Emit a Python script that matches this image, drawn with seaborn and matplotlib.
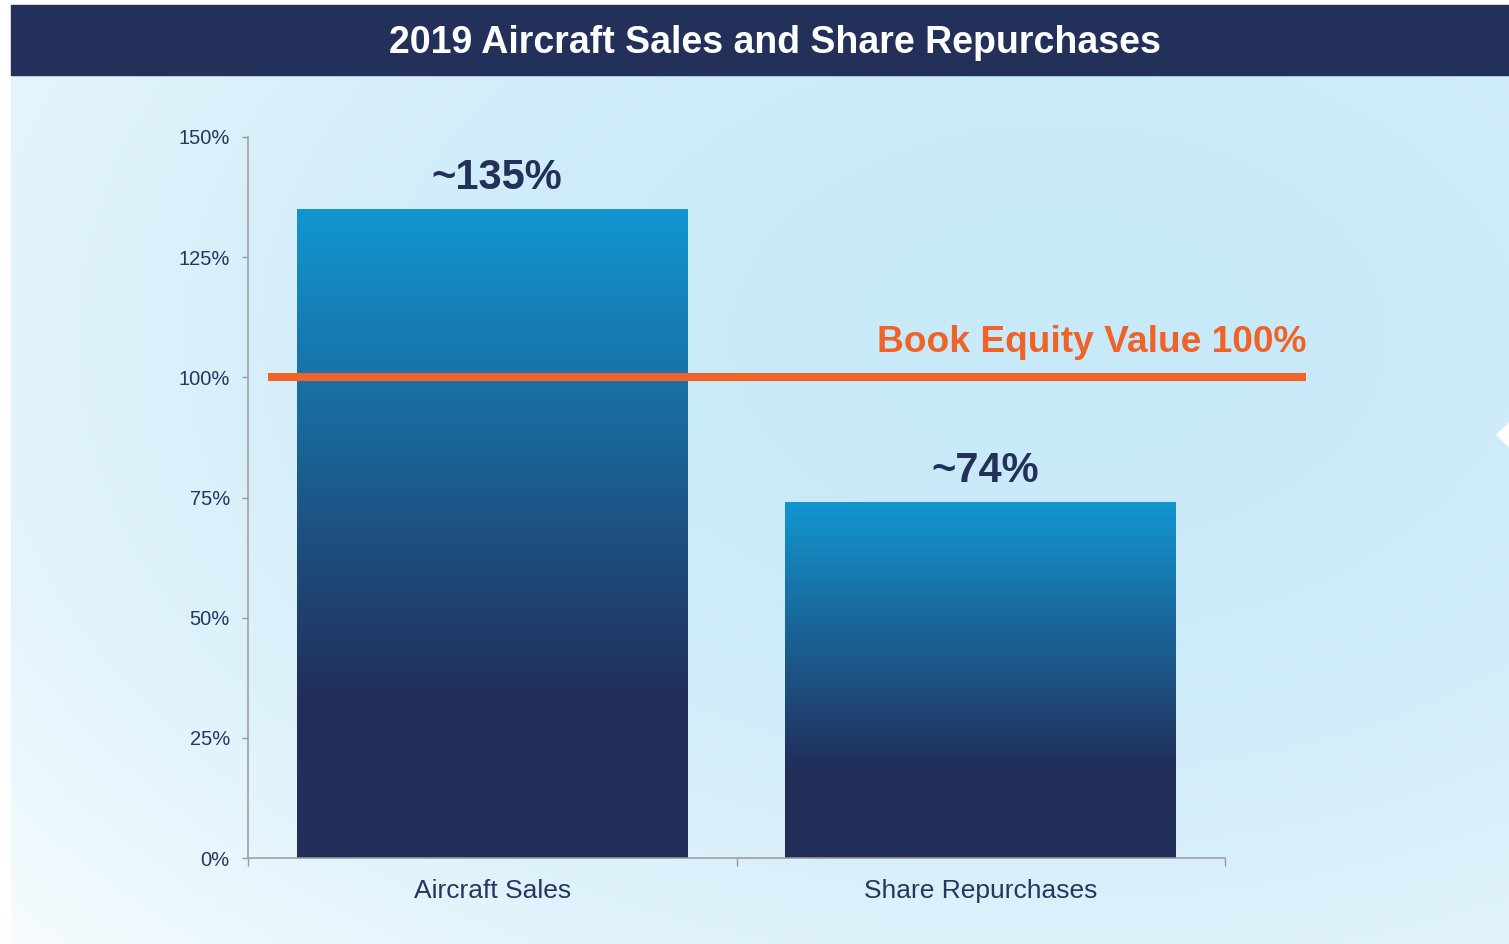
import numpy as np
import matplotlib
matplotlib.use("Agg")
import matplotlib.pyplot as plt
from matplotlib.patches import Rectangle, Polygon
from matplotlib.ticker import FuncFormatter, FixedLocator
import seaborn as sns

# Data
categories = ["Aircraft Sales", "Share Repurchases"]
values = [135, 74]
value_labels = ["~135%", "~74%"]
book_equity = 100
book_equity_label = "Book Equity Value 100%"
title = "2019 Aircraft Sales and Share Repurchases"
y_ticks = [0, 25, 50, 75, 100, 125, 150]

navy = "#22305a"
light_blue = np.array([18, 150, 208]) / 255
dark_blue = np.array([34, 46, 90]) / 255
orange = "#ef6228"
text_navy = "#283560"

sns.set_style("ticks")
plt.rcParams["font.family"] = ["Liberation Sans", "DejaVu Sans"]

W, H = 1509, 944
fig = plt.figure(figsize=(W / 100, H / 100), dpi=100)
fig.patch.set_facecolor("white")

# Background panel with soft gradient
bg = fig.add_axes([0, 0, 1, 1], zorder=-10)
bg.set_xlim(0, 1)
bg.set_ylim(0, 1)
bg.axis("off")
gx, gy = np.meshgrid(np.linspace(0, 1, 300), np.linspace(1, 0, 200))
d = np.sqrt((gx - 0.7) ** 2 + ((gy - 0.7) * 0.9) ** 2)
w = np.clip(1 - d ** 2 * 1.05, 0, 1)[..., None]
white = np.array([250, 253, 255]) / 255
sky = np.array([200, 233, 248]) / 255
bg.imshow(white * (1 - w) + sky * w, extent=(11 / W, 1, 0, 1 - 75 / H),
          aspect="auto", origin="upper", interpolation="bicubic")
bg.add_patch(Rectangle((11 / W, 1 - 75 / H), 1 - 11 / W, 70 / H, color=navy))
bg.add_patch(Polygon([(1497 / W, 1 - 435 / H), (1, 1 - 423 / H), (1, 1 - 447 / H)],
                     closed=True, color="white"))
fig.text(775 / W, 1 - 53 / H, title, ha="center", va="baseline",
         color="white", fontsize=27, fontweight="bold")

# Main chart
ax = fig.add_axes([248 / W, 1 - 858 / H, (1225 - 248) / W, (858 - 137) / H])
ax.patch.set_alpha(0)
sns.barplot(x=categories, y=values, width=0.8, ax=ax, color=navy, linewidth=0)

# Vertical gradient fill for each bar
f = np.linspace(0, 1, 256)
t = np.clip(f / 0.75, 0, 1)[:, None]
grad = (light_blue * (1 - t) + dark_blue * t)[:, None, :]
for bar, lab in zip(ax.patches, value_labels):
    x0, y0 = bar.get_x(), bar.get_y()
    bw, bh = bar.get_width(), bar.get_height()
    im = ax.imshow(grad, extent=(x0, x0 + bw, y0, y0 + bh), aspect="auto",
                   origin="upper", zorder=2)
    im.set_clip_path(bar)
    bar.set_facecolor("none")
    bar.set_edgecolor("none")
    ax.annotate(lab, (x0 + bw / 2, y0 + bh), xytext=(3, 14.5),
                textcoords="offset points", ha="center", va="baseline",
                fontsize=30, fontweight="bold", color=navy)

ax.set_xlim(-0.5, 1.5)
ax.set_ylim(0, 150)

# Book equity reference line
ax.plot([-0.459, 1.666], [book_equity, book_equity], color=orange, lw=5.8,
        solid_capstyle="butt", clip_on=False, zorder=3)
ax.annotate(book_equity_label, (1.666, book_equity), xytext=(0, 18),
            textcoords="offset points", ha="right", va="baseline",
            fontsize=26.7, fontweight="bold", color=orange, annotation_clip=False)

# Axes styling
ax.yaxis.set_major_locator(FixedLocator(y_ticks))
ax.yaxis.set_major_formatter(FuncFormatter(lambda v, p: f"{v:.0f}%"))
ax.tick_params(axis="y", length=4.5, width=1, color="#9a9a9a", pad=8.6,
               labelsize=14.5, labelcolor=text_navy)
ax.xaxis.set_minor_locator(FixedLocator([-0.5, 0.5, 1.5]))
ax.tick_params(axis="x", which="major", length=0, pad=15,
               labelsize=19, labelcolor=text_navy)
ax.tick_params(axis="x", which="minor", length=6, width=1, color="#9a9a9a")
sns.despine(ax=ax)
for s in ["left", "bottom"]:
    ax.spines[s].set_color("#9a9a9a")
    ax.spines[s].set_linewidth(1.1)
ax.set_xlabel("")
ax.set_ylabel("")

fig.savefig("out.png", dpi=100)
